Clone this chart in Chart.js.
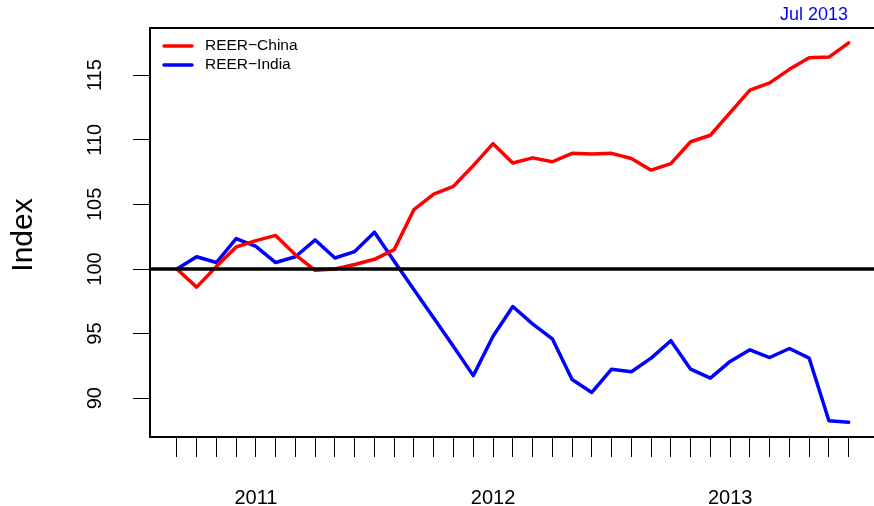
<!DOCTYPE html>
<html>
<head>
<meta charset="utf-8">
<title>REER China vs India</title>
<script src="https://cdn.jsdelivr.net/npm/chart.js@4.4.1/dist/chart.umd.min.js"></script>
<style>
  html, body { margin: 0; padding: 0; background: #fff; }
  #wrap { width: 874px; height: 506px; }
</style>
</head>
<body>
<div id="wrap"><canvas id="chart" width="874" height="506"></canvas></div>
<script>
const months = [
  'Sep 2010', 'Oct 2010', 'Nov 2010', 'Dec 2010',
  'Jan 2011', 'Feb 2011', 'Mar 2011', 'Apr 2011', 'May 2011', 'Jun 2011',
  'Jul 2011', 'Aug 2011', 'Sep 2011', 'Oct 2011', 'Nov 2011', 'Dec 2011',
  'Jan 2012', 'Feb 2012', 'Mar 2012', 'Apr 2012', 'May 2012', 'Jun 2012',
  'Jul 2012', 'Aug 2012', 'Sep 2012', 'Oct 2012', 'Nov 2012', 'Dec 2012',
  'Jan 2013', 'Feb 2013', 'Mar 2013', 'Apr 2013', 'May 2013', 'Jun 2013',
  'Jul 2013'
];
const reerChina = [
  100, 98.6, 100.2, 101.7, 102.2, 102.6, 101.1, 99.9, 100.0, 100.35,
  100.75, 101.5, 104.6, 105.8, 106.4, 108.0, 109.7, 108.2, 108.6, 108.3,
  108.95, 108.9, 108.95, 108.55, 107.65, 108.15, 109.85, 110.35, 112.1, 113.85,
  114.4, 115.45, 116.35, 116.4, 117.5
];
const reerIndia = [
  100, 100.95, 100.5, 102.35, 101.75, 100.5, 100.95, 102.25, 100.85, 101.35,
  102.85, 100.6, 98.4, 96.2, 94.0, 91.75, 94.8, 97.1, 95.75, 94.6,
  91.45, 90.45, 92.25, 92.05, 93.1, 94.45, 92.25, 91.55, 92.85, 93.75,
  93.15, 93.85, 93.1, 88.25, 88.15
];
const yTicks = [90, 95, 100, 105, 110, 115];
const yearLabels = ['2011', '2012', '2013'];
const baseline = 100;
const lastLabel = 'Jul 2013';

const FONT = '"Liberation Sans", Arial, Helvetica, sans-serif';
Chart.defaults.font.family = FONT;
Chart.defaults.color = '#000';

// year label goes on the January tick of that year
function tickLabel(v) {
  const m = months[v];
  if (!m) return '';
  const yr = m.slice(4);
  return m.startsWith('Jan') && yearLabels.includes(yr) ? yr : '';
}

const rStyle = {
  id: 'rStyle',
  afterDatasetsDraw(chart) {
    const { ctx, chartArea, scales } = chart;
    const y = scales.y.getPixelForValue(baseline);
    ctx.save();
    ctx.strokeStyle = '#000';
    ctx.lineWidth = 3.5;
    ctx.beginPath();
    ctx.moveTo(chartArea.left, y);
    ctx.lineTo(chartArea.right, y);
    ctx.stroke();
    ctx.restore();
  },
  afterDraw(chart) {
    const { ctx, chartArea, scales } = chart;
    ctx.save();
    // top of the box
    ctx.strokeStyle = '#000';
    ctx.lineWidth = 2;
    ctx.beginPath();
    ctx.moveTo(chartArea.left - 1, chartArea.top);
    ctx.lineTo(chartArea.right, chartArea.top);
    ctx.stroke();

    // y tick labels, parallel to the axis
    ctx.fillStyle = '#000';
    ctx.font = '20px ' + FONT;
    ctx.textAlign = 'center';
    ctx.textBaseline = 'alphabetic';
    yTicks.forEach(t => {
      const py = scales.y.getPixelForValue(t);
      ctx.save();
      ctx.translate(101, py);
      ctx.rotate(-Math.PI / 2);
      ctx.fillText(String(t), 0, 0);
      ctx.restore();
    });

    // axis title
    ctx.save();
    ctx.font = '30px ' + FONT;
    ctx.translate(32, 235);
    ctx.rotate(-Math.PI / 2);
    ctx.fillText('Index', 0, 0);
    ctx.restore();

    // last period note
    ctx.font = '18px ' + FONT;
    ctx.fillStyle = '#0000ff';
    ctx.textAlign = 'right';
    ctx.fillText(lastLabel, 848, 20);

    // legend
    ctx.font = '15.5px ' + FONT;
    ctx.textAlign = 'left';
    ctx.textBaseline = 'middle';
    chart.data.datasets.forEach((ds, i) => {
      const ly = 46 + i * 19;
      ctx.strokeStyle = ds.borderColor;
      ctx.lineWidth = 3.5;
      ctx.lineCap = 'round';
      ctx.beginPath();
      ctx.moveTo(164, ly);
      ctx.lineTo(192, ly);
      ctx.stroke();
      ctx.fillStyle = '#000';
      ctx.fillText(ds.label, 205, ly);
    });
    ctx.restore();
  }
};

new Chart(document.getElementById('chart'), {
  type: 'line',
  data: {
    datasets: [
      {
        label: 'REER\u2212China',
        data: reerChina.map((v, i) => ({ x: i, y: v })),
        borderColor: '#ff0000',
        borderWidth: 3.5,
        borderJoinStyle: 'round',
        borderCapStyle: 'round',
        pointRadius: 0,
        tension: 0
      },
      {
        label: 'REER\u2212India',
        data: reerIndia.map((v, i) => ({ x: i, y: v })),
        borderColor: '#0000ff',
        borderWidth: 3.5,
        borderJoinStyle: 'round',
        borderCapStyle: 'round',
        pointRadius: 0,
        tension: 0
      }
    ]
  },
  options: {
    responsive: false,
    animation: false,
    events: [],
    layout: { padding: { top: 28, left: 0, right: 0, bottom: 0 } },
    plugins: {
      legend: { display: false },
      tooltip: { enabled: false }
    },
    scales: {
      x: {
        type: 'linear',
        min: -1.36,
        max: 35.28,
        afterBuildTicks: s => { s.ticks = months.map((m, i) => ({ value: i })); },
        afterFit: s => { s.height = 69; s.paddingLeft = 0; s.paddingRight = 0; },
        ticks: {
          autoSkip: false,
          maxRotation: 0,
          minRotation: 0,
          padding: 29,
          color: '#000',
          font: { size: 20 },
          callback: v => tickLabel(v)
        },
        grid: {
          drawOnChartArea: false,
          drawTicks: true,
          tickLength: 20,
          color: '#000',
          lineWidth: 1
        },
        border: { display: true, color: '#000', width: 2 }
      },
      y: {
        min: 87.0,
        max: 118.65,
        afterBuildTicks: s => { s.ticks = yTicks.map(v => ({ value: v })); },
        afterFit: s => { s.width = 150; s.paddingTop = 0; s.paddingBottom = 0; },
        ticks: { display: false },
        grid: {
          drawOnChartArea: false,
          drawTicks: true,
          tickLength: 17,
          color: '#000',
          lineWidth: 1
        },
        border: { display: true, color: '#000', width: 2 }
      }
    }
  },
  plugins: [rStyle]
});
</script>
</body>
</html>
